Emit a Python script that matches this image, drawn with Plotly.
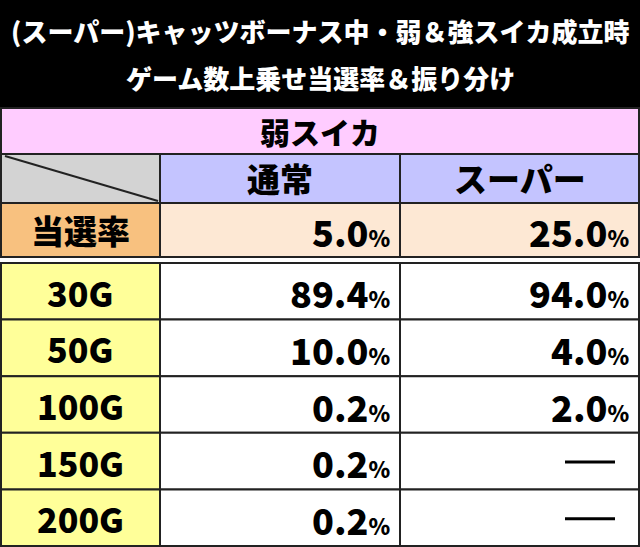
import plotly.graph_objects as go

title_lines = ["(スーパー)キャッツボーナス中・弱＆強スイカ成立時", "ゲーム数上乗せ当選率＆振り分け"]
section = "弱スイカ"
columns = ["通常", "スーパー"]
rate_label = "当選率"
rate_values = ["5.0", "25.0"]
row_labels = ["30G", "50G", "100G", "150G", "200G"]
normal_vals = ["89.4", "10.0", "0.2", "0.2", "0.2"]
super_vals = ["94.0", "4.0", "2.0", None, None]

F = "Noto Sans CJK JP"
fig = go.Figure()
shapes, ann = [], []
BL = dict(color="#222", width=2)

def rect(x0, y0, x1, y1, fill, line=BL):
    shapes.append(dict(type="rect", x0=x0, y0=y0, x1=x1, y1=y1, fillcolor=fill, line=line, layer="below"))

def txt(x, y, s, size, color="black", xa="center"):
    ann.append(dict(x=x, y=y, text=s, showarrow=False, xanchor=xa, yanchor="middle",
                    font=dict(family=F, size=size, color=color, weight=900)))

def pct(v):
    return f"{v}<span style='font-size:22px'>%</span>"

rect(0, 0, 640, 107, "black", dict(width=0))
txt(320, 30, title_lines[0], 26, "white")
txt(320, 77, title_lines[1], 26, "white")

rect(1, 108, 639, 154, "#ffccff")
txt(320, 131, section, 30)

cx = [160, 400, 639]
rect(1, 154, 160, 203, "#d3d3d3")
shapes.append(dict(type="line", x0=5, y0=156, x1=158, y1=201, line=dict(color="#222", width=2)))
for i, c in enumerate(columns):
    rect(cx[i], 154, cx[i + 1], 203, "#c4c4ff")
    txt((cx[i] + cx[i + 1]) / 2, 178, c, 33)

rect(1, 203, 160, 257, "#f8c17f")
txt(80, 230, rate_label, 33)
for i, v in enumerate(rate_values):
    rect(cx[i], 203, cx[i + 1], 257, "#fde8d4")
    txt(cx[i + 1] - 8, 231, pct(v), 36, xa="right")

top, h = 263, 56.6
for r, lab in enumerate(row_labels):
    y0 = top + r * h
    y1 = y0 + h
    ym = (y0 + y1) / 2 + 1
    rect(1, y0, 160, y1, "#ffff99")
    txt(80, ym, lab, 34)
    for i, v in enumerate([normal_vals[r], super_vals[r]]):
        rect(cx[i], y0, cx[i + 1], y1, "white")
        if v is None:
            shapes.append(dict(type="line", x0=565, x1=615, y0=ym, y1=ym, line=dict(color="black", width=3)))
        else:
            txt(cx[i + 1] - 8, ym, pct(v), 36, xa="right")

fig.update_layout(width=640, height=547, margin=dict(l=0, r=0, t=0, b=0),
                  plot_bgcolor="white", paper_bgcolor="white", shapes=shapes, annotations=ann,
                  xaxis=dict(range=[0, 640], visible=False, fixedrange=True),
                  yaxis=dict(range=[547, 0], visible=False, fixedrange=True), showlegend=False)
fig.write_html("out.html", post_script="document.body.style.margin='0';document.body.style.overflow='hidden';",
               config={"displayModeBar": False})
